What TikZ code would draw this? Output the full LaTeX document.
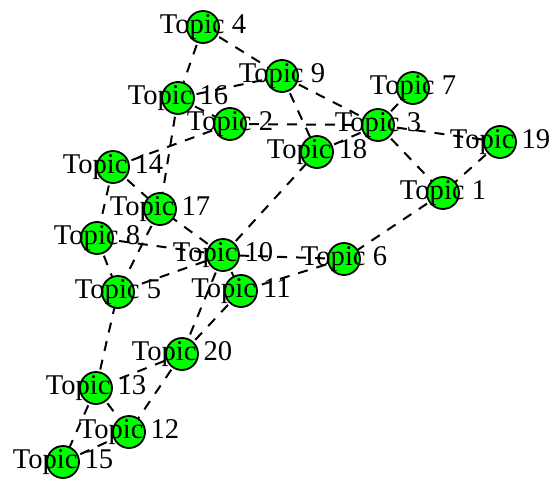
\documentclass[tikz,border=0pt]{standalone}
\usepackage{fontspec}
\setmainfont{Liberation Serif}
\usetikzlibrary{backgrounds}
\tikzset{
  topic/.style={circle,draw=black,line width=1.8pt,fill=green,minimum size=32pt,inner sep=0pt},
  toplabel/.style={inner sep=0pt,text=black,font=\fontsize{28.6}{31}\selectfont},
  link/.style={draw=black,line width=2pt,dash pattern=on 10pt off 9pt}
}
\begin{document}
\begin{tikzpicture}[x=1pt,y=-1pt]
\useasboundingbox (0,0) rectangle (555,482);
\foreach \n/\x/\y in {1/443/193,2/230/124,3/378/125,4/203/27,5/118/292,6/344/259,7/413/88,8/97/238,9/282/76,10/223/255,11/241/291,12/129/432,13/96/388,14/113/167,15/63/462,16/178/98,17/160/209,18/317/152,19/500/142,20/182/354}
  \node[topic] (t\n) at (\x,\y) {};
\begin{scope}[on background layer]
\foreach \a/\b in {4/9,4/16,16/9,16/2,16/17,9/3,9/18,2/3,2/14,3/7,3/19,3/1,3/18,19/1,1/6,6/10,6/11,10/18,10/8,10/17,10/5,10/11,10/20,11/20,20/12,20/13,13/5,13/12,13/15,15/12,14/17,14/8,8/5,17/5}
  \draw[link] (t\a.center) -- (t\b.center);
\end{scope}
\foreach \n in {1,...,20}
  \node[toplabel] (l\n) at (t\n) {Topic \n};
\end{tikzpicture}
\end{document}
